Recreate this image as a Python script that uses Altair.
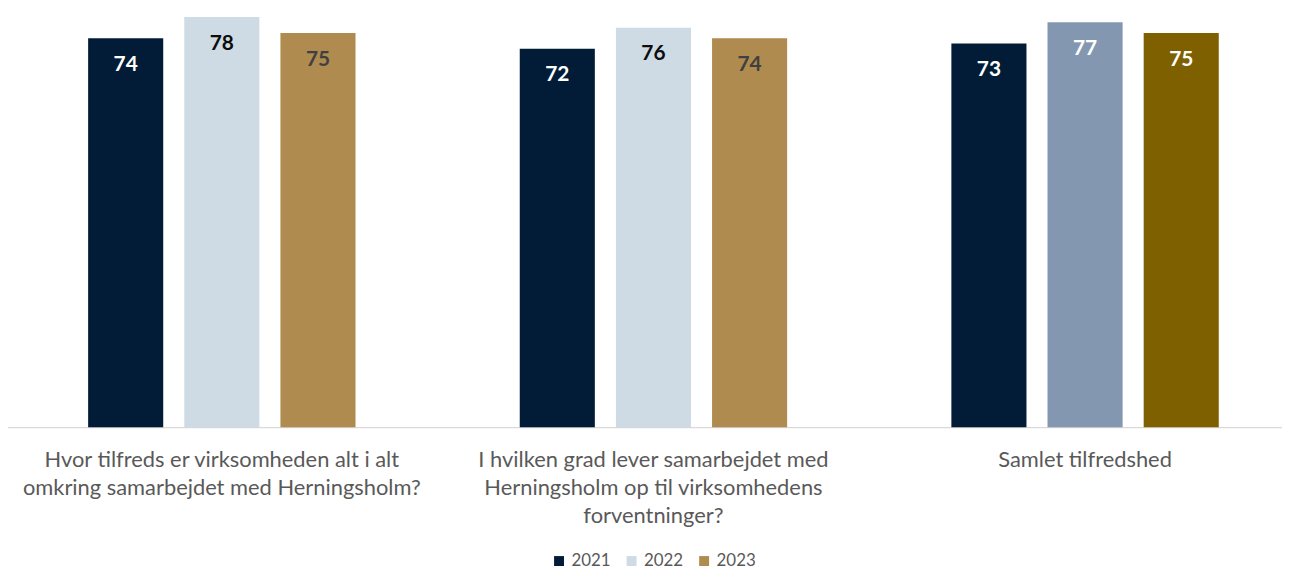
import altair as alt
import pandas as pd

questions = [
    "Hvor tilfreds er virksomheden alt i alt|omkring samarbejdet med Herningsholm?",
    "I hvilken grad lever samarbejdet med|Herningsholm op til virksomhedens|forventninger?",
    "Samlet tilfredshed",
]
years = ["2021", "2022", "2023"]
values_2021 = [74, 72, 73]
values_2022 = [78, 76, 77]
values_2023 = [75, 74, 75]
overall = [False, False, True]

rows = []
for i, q in enumerate(questions):
    for y, vals in zip(years, [values_2021, values_2022, values_2023]):
        key = y if (not overall[i] or y == "2021") else y + "b"
        rows.append({"question": q, "year": y, "value": vals[i], "key": key})
df = pd.DataFrame(rows)

keys = ["2021", "2022", "2023", "2022b", "2023b"]
bar_colors = ["#021c37", "#cedbe5", "#b08b4f", "#8497b0", "#7f6000"]
text_colors = ["#ffffff", "#0d0d0d", "#404040", "#ffffff", "#ffffff"]

FONT = "Lato"

x_enc = alt.X(
    "question:N",
    sort=questions,
    scale=alt.Scale(rangeMin=-2, rangeMax=1301, paddingInner=0, paddingOuter=0),
    axis=alt.Axis(
        title=None,
        ticks=False,
        labelAngle=0,
        labelExpr="split(datum.value, '|')",
        labelFont=FONT,
        labelFontSize=22,
        labelColor="#595959",
        labelLineHeight=28,
        labelPadding=23,
        labelBaseline="top",
        domainColor="#d9d9d9",
        domainWidth=1.5,
        labelLimit=600,
    ),
)
xo_enc = alt.XOffset(
    "year:N", sort=years, scale=alt.Scale(paddingInner=0.219, paddingOuter=0.854)
)
y_enc = alt.Y(
    "value:Q",
    scale=alt.Scale(domain=[0, 79.4], nice=False, zero=True),
    axis=None,
)

bars = alt.Chart(df).mark_bar().encode(
    x=x_enc,
    xOffset=xo_enc,
    y=y_enc,
    color=alt.Color(
        "key:N",
        scale=alt.Scale(domain=keys, range=bar_colors),
        legend=alt.Legend(
            values=years,
            title=None,
            orient="none",
            legendX=546,
            legendY=546,
            direction="horizontal",
            symbolType="square",
            symbolSize=100,
            symbolStrokeWidth=0,
            labelFont=FONT,
            labelFontSize=17,
            labelColor="#595959",
            columnPadding=12,
            padding=0,
        ),
    ),
)

labels = alt.Chart(df).mark_text(
    font=FONT, fontSize=21, fontWeight="bold", baseline="middle", dy=27
).encode(
    x=x_enc,
    xOffset=xo_enc,
    y=y_enc,
    text=alt.Text("value:Q"),
    color=alt.Color(
        "key:N", scale=alt.Scale(domain=keys, range=text_colors), legend=None
    ),
)

chart = (
    alt.layer(bars, labels)
    .resolve_scale(color="independent")
    .properties(
        width=1282,
        height=420,
        autosize=alt.AutoSizeParams(type="none"),
        padding={"left": 0, "top": 0, "right": 0, "bottom": 142},
    )
    .configure_view(stroke=None)
    .configure_axis(grid=False)
)

chart.save("out.html", embed_options={"renderer": "svg", "actions": False})
